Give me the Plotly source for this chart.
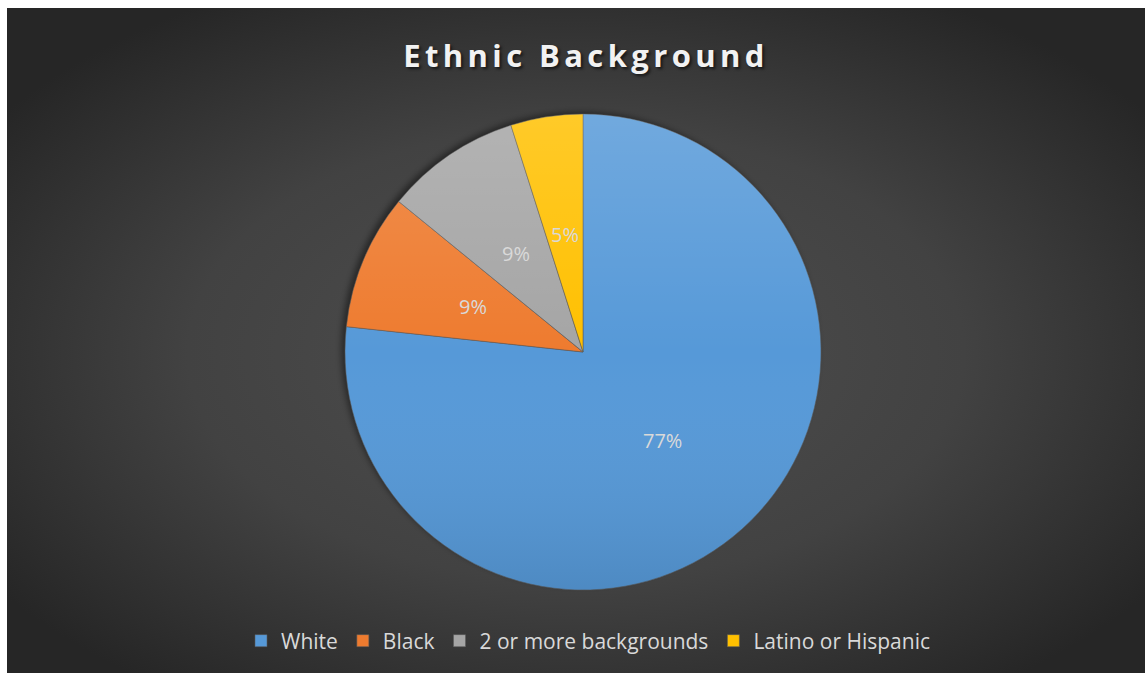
import base64
import math
import plotly.graph_objects as go

# Data
categories = ["White", "Black", "2 or more backgrounds", "Latino or Hispanic"]
values = [76.7, 9.2, 9.2, 4.9]
colors = ["#5699d8", "#ee7b2f", "#a5a5a5", "#ffc000"]

W, H = 1145, 673
# pie placement (pixels)
CX, CY, R = 583, 352, 238
dom_x = [(CX - R) / W, (CX + R) / W]
dom_y = [(H - CY - R) / H, (H - CY + R) / H]


def data_uri(svg):
    return "data:image/svg+xml;base64," + base64.b64encode(svg.encode()).decode()


bg_svg = f'''<svg xmlns="http://www.w3.org/2000/svg" width="{W}" height="{H}" viewBox="0 0 {W} {H}" preserveAspectRatio="none">
<defs><radialGradient id="g" cx="50%" cy="52%" r="62%" fx="50%" fy="52%">
<stop offset="0%" stop-color="#4f4f4f"/><stop offset="55%" stop-color="#424242"/><stop offset="100%" stop-color="#262626"/>
</radialGradient>
<filter id="b" x="-10%" y="-10%" width="120%" height="120%"><feGaussianBlur stdDeviation="3"/></filter></defs>
<rect width="{W}" height="{H}" fill="url(#g)"/>
<circle cx="{CX - 7}" cy="{CY - 8 + 1}" r="{R + 1.5}" fill="rgba(0,0,0,0.45)" filter="url(#b)"/></svg>'''

shade_svg = '''<svg xmlns="http://www.w3.org/2000/svg" width="200" height="200" viewBox="0 0 200 200">
<defs><linearGradient id="s" x1="0" y1="0" x2="0" y2="1">
<stop offset="0%" stop-color="#ffffff" stop-opacity="0.16"/>
<stop offset="50%" stop-color="#ffffff" stop-opacity="0"/>
<stop offset="100%" stop-color="#000000" stop-opacity="0.10"/>
</linearGradient></defs>
<circle cx="100" cy="100" r="100" fill="url(#s)"/></svg>'''

fig = go.Figure(go.Pie(
    labels=categories,
    values=values,
    sort=False,
    direction="clockwise",
    rotation=0,
    marker=dict(colors=colors, line=dict(color="rgba(90,90,90,0.7)", width=0.8)),
    textinfo="none",
    hoverinfo="label+percent",
    domain=dict(x=dom_x, y=dom_y),
))

# percentage labels at half radius on each slice's mid-angle (Excel best-fit style)
total = sum(values)
annotations = []
cum = 0.0
for v in values:
    mid = (cum + v / 2) / total * 2 * math.pi
    cum += v
    ax = (dom_x[0] + dom_x[1]) / 2 + 0.5 * R * math.sin(mid) / W
    ay = (dom_y[0] + dom_y[1]) / 2 + 0.5 * R * math.cos(mid) / H
    annotations.append(dict(x=ax, y=ay, xref="paper", yref="paper", showarrow=False,
                            text=f"{round(v / total * 100)}%",
                            font=dict(family="Open Sans", size=20, color="#d9d9d9")))

fig.update_layout(
    width=W, height=H,
    margin=dict(l=0, r=0, t=0, b=0),
    paper_bgcolor="white",
    plot_bgcolor="rgba(0,0,0,0)",
    images=[
        dict(source=data_uri(bg_svg), xref="paper", yref="paper", x=7 / W, y=1 - 8 / H,
             sizex=1 - 7 / W, sizey=1 - 8 / H, xanchor="left", yanchor="top",
             sizing="stretch", layer="below"),
        dict(source=data_uri(shade_svg), xref="paper", yref="paper", x=dom_x[0], y=dom_y[1],
             sizex=dom_x[1] - dom_x[0], sizey=dom_y[1] - dom_y[0], xanchor="left", yanchor="top",
             sizing="stretch", layer="above"),
    ],
    annotations=annotations,
    title=dict(text='<span style="letter-spacing:4.4px">Ethnic Background</span>',
               x=586 / W, xanchor="center", y=1 - 56 / H, yanchor="middle",
               font=dict(family="Open Sans", size=31, weight="bold", color="#f2f2f2",
                         shadow="2px 2px 3px rgba(0,0,0,0.6)")),
    showlegend=True,
    legend=dict(orientation="h", x=588 / W, xanchor="center", y=1 - 641 / H, yanchor="middle",
                font=dict(family="Open Sans", size=21, color="#d9d9d9"),
                bgcolor="rgba(0,0,0,0)", itemwidth=30),
)

fig.write_html("out.html")
